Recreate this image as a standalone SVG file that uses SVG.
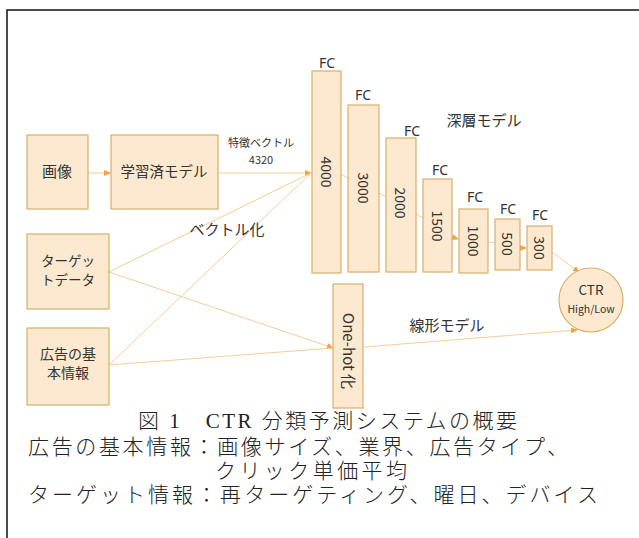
<svg xmlns="http://www.w3.org/2000/svg" width="639" height="538" viewBox="0 0 639 538">
<style>
.box{fill:#fce9cf;stroke:#d8b06a;stroke-width:1.2}
.ln{stroke:#f5cd96;stroke-width:1;fill:none}
.lab{font-family:"Noto Sans CJK JP","Noto Sans",sans-serif;fill:#333;text-anchor:middle}
.fc{font-family:"Noto Sans","Noto Sans CJK JP",sans-serif;fill:#333;text-anchor:middle;font-size:14px}
.cap{font-family:"Liberation Serif","Noto Sans CJK JP",serif;fill:#222;font-size:21px;font-weight:300}
</style>
<defs>
<marker id="ah" markerUnits="userSpaceOnUse" markerWidth="7" markerHeight="6" refX="6" refY="3" orient="auto">
<path d="M0,0 L7,3 L0,6 Z" fill="#f0a43a"/>
</marker>
</defs>
<rect x="7" y="10" width="640" height="540" fill="#fff" stroke="#111" stroke-width="1.5"/>
<g id="connectors">
<line class="ln" x1="88" y1="173" x2="110" y2="173" marker-end="url(#ah)"/>
<line class="ln" x1="218" y1="173" x2="311" y2="173" marker-end="url(#ah)"/>
<line class="ln" x1="109" y1="272" x2="311" y2="173"/>
<line class="ln" x1="109" y1="365" x2="311" y2="173"/>
<line class="ln" x1="109" y1="272" x2="333" y2="348" marker-end="url(#ah)"/>
<line class="ln" x1="109" y1="365" x2="333" y2="348"/>
<line class="ln" x1="364" y1="347" x2="577" y2="330" marker-end="url(#ah)"/>
<line class="ln" x1="341" y1="174" x2="348" y2="178"/>
<line class="ln" x1="379" y1="193" x2="386" y2="197"/>
<line class="ln" x1="416" y1="214" x2="423" y2="218"/>
<line class="ln" x1="452" y1="237" x2="458" y2="239" marker-end="url(#ah)"/>
<line class="ln" x1="488" y1="242" x2="495" y2="243"/>
<line class="ln" x1="520" y1="248" x2="526" y2="248" marker-end="url(#ah)"/>
<line class="ln" x1="552" y1="252" x2="579" y2="272" marker-end="url(#ah)"/>
</g>
<g id="n-image"><rect class="box" x="27" y="135" width="61" height="74"/><text class="lab" x="57" y="177" font-size="15">画像</text></g>
<g id="n-pretrained"><rect class="box" x="111" y="135" width="107" height="74"/><text class="lab" x="164" y="177" font-size="14.5">学習済モデル</text></g>
<g id="n-target"><rect class="box" x="27" y="234" width="82" height="75"/><text class="lab" x="68" y="266" font-size="13.5">ターゲッ</text><text class="lab" x="68" y="285" font-size="13.5">トデータ</text></g>
<g id="n-adinfo"><rect class="box" x="27" y="328" width="82" height="77"/><text class="lab" x="68" y="359" font-size="14">広告の基</text><text class="lab" x="68" y="378" font-size="14">本情報</text></g>
<g id="n-onehot"><rect class="box" x="333" y="284" width="30" height="124"/><text class="lab" font-size="15" transform="translate(348,351) rotate(90)" dy="5">One-hot 化</text></g>
<g id="n-fc4000"><rect class="box" x="312" y="71" width="29" height="202"/><text class="fc" x="327" y="68">FC</text><text class="lab" font-size="14" transform="translate(326,172) rotate(90)" dy="5">4000</text></g>
<g id="n-fc3000"><rect class="box" x="348" y="105" width="31" height="167"/><text class="fc" x="363" y="100">FC</text><text class="lab" font-size="14" transform="translate(363,188) rotate(90)" dy="5">3000</text></g>
<g id="n-fc2000"><rect class="box" x="386" y="138" width="30" height="134"/><text class="fc" x="412" y="136">FC</text><text class="lab" font-size="14" transform="translate(400,203) rotate(90)" dy="5">2000</text></g>
<g id="n-fc1500"><rect class="box" x="423" y="179" width="29" height="93"/><text class="fc" x="440" y="175">FC</text><text class="lab" font-size="14" transform="translate(437,226) rotate(90)" dy="5">1500</text></g>
<g id="n-fc1000"><rect class="box" x="459" y="209" width="29" height="64"/><text class="fc" x="475" y="202">FC</text><text class="lab" font-size="14" transform="translate(473,241) rotate(90)" dy="5">1000</text></g>
<g id="n-fc500"><rect class="box" x="495" y="219" width="25" height="51"/><text class="fc" x="508" y="214">FC</text><text class="lab" font-size="14" transform="translate(507,244) rotate(90)" dy="5">500</text></g>
<g id="n-fc300"><rect class="box" x="527" y="226" width="25" height="44"/><text class="fc" x="540" y="220">FC</text><text class="lab" font-size="14" transform="translate(539,248) rotate(90)" dy="5">300</text></g>
<g id="n-ctr"><circle class="box" cx="591" cy="300" r="32"/><text class="lab" x="591" y="295" font-size="13.5">CTR</text><text class="lab" x="591" y="313" font-size="10.5">High/Low</text></g>
<g id="labels">
<text class="lab" x="261" y="147" font-size="11">特徴ベクトル</text>
<text class="lab" x="261" y="164" font-size="11">4320</text>
<text class="lab" x="227" y="235" font-size="15">ベクトル化</text>
<text class="lab" x="484" y="126" font-size="15">深層モデル</text>
<text class="lab" x="447" y="331" font-size="15">線形モデル</text>
</g>
<g id="caption">
<text class="cap" x="138" y="428" textLength="379" lengthAdjust="spacing">図 1　CTR 分類予測システムの概要</text>
<text class="cap" x="28" y="454" textLength="540" lengthAdjust="spacing">広告の基本情報：画像サイズ、業界、広告タイプ、</text>
<text class="cap" x="215" y="478" textLength="192" lengthAdjust="spacing">クリック単価平均</text>
<text class="cap" x="28" y="502" textLength="570" lengthAdjust="spacing">ターゲット情報：再ターゲティング、曜日、デバイス</text>
</g>
</svg>
